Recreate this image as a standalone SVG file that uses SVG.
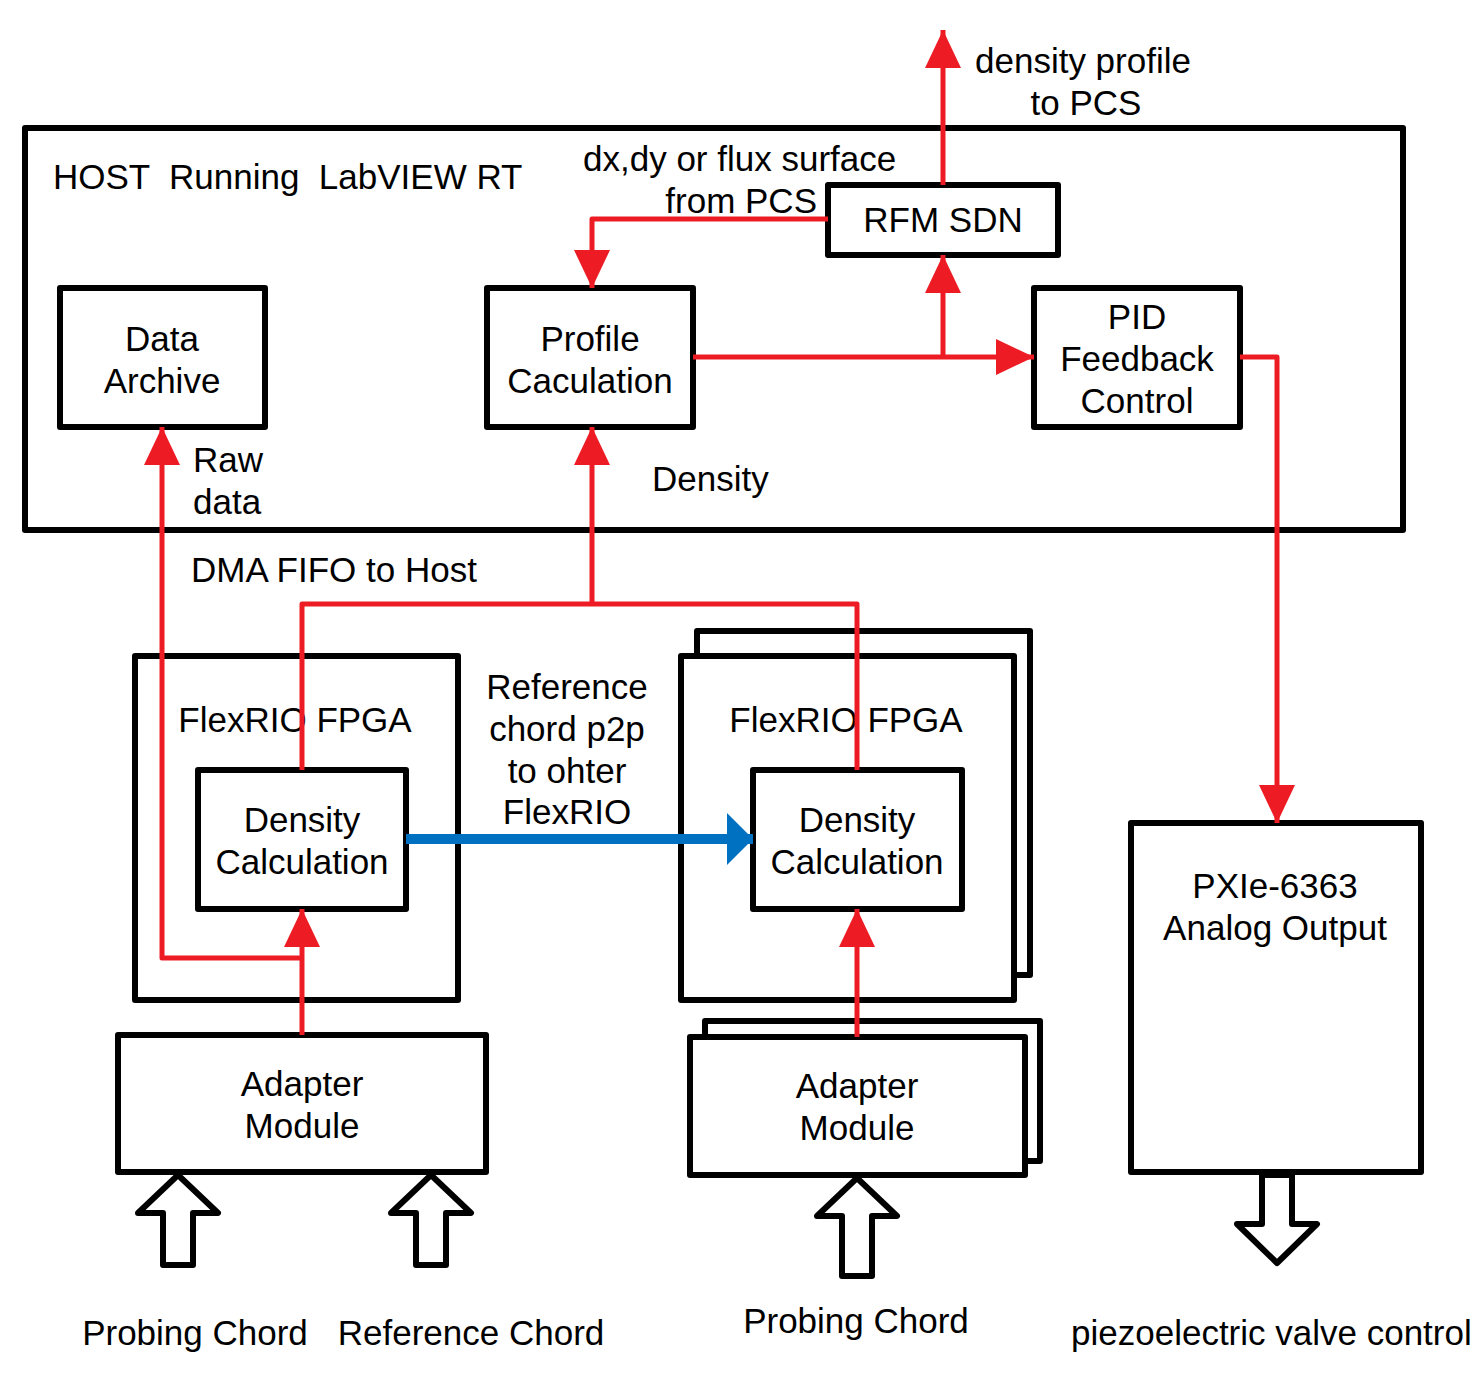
<svg xmlns="http://www.w3.org/2000/svg" width="1481" height="1385" viewBox="0 0 1481 1385">
<style>
.box{fill:#fff;stroke:#000;stroke-width:6;stroke-linejoin:round}
.hollow{fill:#fff;stroke:#000;stroke-width:6;stroke-linejoin:round}
.t{font-family:"Liberation Sans",Arial,sans-serif;font-size:35px;fill:#000}
.c{text-anchor:middle}
.red{fill:none;stroke:#ED1C24;stroke-width:5;stroke-linejoin:round}
.blue{fill:none;stroke:#0070C0;stroke-width:10}
</style>
<defs>
<marker id="ar" markerUnits="userSpaceOnUse" markerWidth="40" markerHeight="38" refX="38" refY="18" orient="auto">
<path d="M0,0 L38,18 L0,36 z" fill="#ED1C24"/>
</marker>
<marker id="ab" markerUnits="userSpaceOnUse" markerWidth="28" markerHeight="54" refX="26" refY="26" orient="auto">
<path d="M0,0 L26,26 L0,52 z" fill="#0070C0"/>
</marker>
</defs>
<rect width="1481" height="1385" fill="#fff"/>

<g id="host">
<rect class="box" x="25" y="128" width="1378" height="402" fill="none"/>
<text class="t" x="53" y="189" xml:space="preserve">HOST  Running  LabVIEW RT</text>
</g>
<g id="rfm">
<rect class="box" x="828" y="185" width="230" height="70"/>
<text class="t c" x="943" y="232">RFM SDN</text>
</g>
<g id="archive">
<rect class="box" x="60" y="288" width="205" height="139"/>
<text class="t c" x="162" y="351">Data</text>
<text class="t c" x="162" y="393">Archive</text>
</g>
<g id="profile">
<rect class="box" x="487" y="288" width="206" height="139"/>
<text class="t c" x="590" y="351">Profile</text>
<text class="t c" x="590" y="393">Caculation</text>
</g>
<g id="pid">
<rect class="box" x="1034" y="288" width="206" height="139"/>
<text class="t c" x="1137" y="329">PID</text>
<text class="t c" x="1137" y="371">Feedback</text>
<text class="t c" x="1137" y="413">Control</text>
</g>
<g id="flexrio1">
<rect class="box" x="135" y="656" width="323" height="344"/>
<text class="t c" x="295" y="732">FlexRIO FPGA</text>
</g>
<g id="density1">
<rect class="box" x="198" y="770" width="208" height="139"/>
<text class="t c" x="302" y="832">Density</text>
<text class="t c" x="302" y="874">Calculation</text>
</g>
<g id="flexrio2">
<rect class="box" x="697" y="631" width="333" height="344"/>
<rect class="box" x="681" y="656" width="333" height="344"/>
<text class="t c" x="846" y="732">FlexRIO FPGA</text>
</g>
<g id="density2">
<rect class="box" x="753" y="770" width="209" height="139"/>
<text class="t c" x="857" y="832">Density</text>
<text class="t c" x="857" y="874">Calculation</text>
</g>
<g id="adapter1">
<rect class="box" x="118" y="1035" width="368" height="137"/>
<text class="t c" x="302" y="1096">Adapter</text>
<text class="t c" x="302" y="1138">Module</text>
</g>
<g id="adapter2">
<rect class="box" x="705" y="1021" width="335" height="140"/>
<rect class="box" x="690" y="1037" width="335" height="138"/>
<text class="t c" x="857" y="1098">Adapter</text>
<text class="t c" x="857" y="1140">Module</text>
</g>
<g id="pxie">
<rect class="box" x="1131" y="823" width="290" height="349"/>
<text class="t c" x="1275" y="898">PXIe-6363</text>
<text class="t c" x="1275" y="940">Analog Output</text>
</g>

<g id="inputs">
<path class="hollow" d="M178,1175 L218,1213 L193,1213 L193,1265 L163,1265 L163,1213 L138,1213 Z"/>
<path class="hollow" d="M431,1175 L471,1213 L446,1213 L446,1265 L416,1265 L416,1213 L391,1213 Z"/>
<path class="hollow" d="M857,1178 L897,1216 L872,1216 L872,1276 L842,1276 L842,1216 L817,1216 Z"/>
<path class="hollow" d="M1277,1263 L1317,1224 L1292,1224 L1292,1175 L1262,1175 L1262,1224 L1237,1224 Z"/>
</g>

<g id="connectors">
<path class="red" d="M943,185 V30" marker-end="url(#ar)"/>
<path class="red" d="M828,219 H592 V288" marker-end="url(#ar)"/>
<path class="red" d="M693,357 H1034" marker-end="url(#ar)"/>
<path class="red" d="M943,357 V255" marker-end="url(#ar)"/>
<path class="red" d="M1240,357 H1277 V823" marker-end="url(#ar)"/>
<path class="red" d="M302,770 V604 H857 V770"/>
<path class="red" d="M592,604 V427" marker-end="url(#ar)"/>
<path class="red" d="M302,1035 V909" marker-end="url(#ar)"/>
<path class="red" d="M302,958 H162 V427" marker-end="url(#ar)"/>
<path class="red" d="M857,1037 V909" marker-end="url(#ar)"/>
<path class="blue" d="M406,839 H753" marker-end="url(#ab)"/>
</g>

<g id="labels">
<text class="t" x="975" y="73">density profile</text>
<text class="t c" x="1086" y="115">to PCS</text>
<text class="t" x="583" y="171">dx,dy or flux surface</text>
<text class="t" x="817" y="213" text-anchor="end">from PCS</text>
<text class="t" x="193" y="472">Raw</text>
<text class="t" x="193" y="514">data</text>
<text class="t" x="652" y="491">Density</text>
<text class="t" x="191" y="582">DMA FIFO to Host</text>
<text class="t c" x="567" y="699">Reference</text>
<text class="t c" x="567" y="741">chord p2p</text>
<text class="t c" x="567" y="783">to ohter</text>
<text class="t c" x="567" y="824">FlexRIO</text>
<text class="t c" x="195" y="1345">Probing Chord</text>
<text class="t c" x="471" y="1345">Reference Chord</text>
<text class="t c" x="856" y="1333">Probing Chord</text>
<text class="t" x="1071" y="1345">piezoelectric valve control</text>
</g>
</svg>
